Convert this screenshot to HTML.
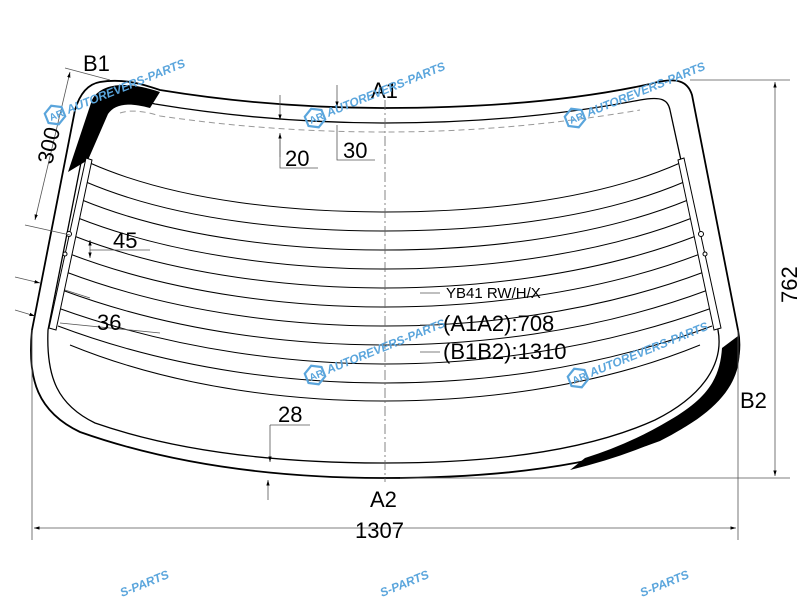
<!DOCTYPE html>
<html><head><meta charset="utf-8"><style>
html,body{margin:0;padding:0;background:#fff;width:800px;height:600px;overflow:hidden;}
svg{display:block;font-family:"Liberation Sans",Arial,sans-serif;}
</style></head><body>
<svg width="800" height="600" viewBox="0 0 800 600" xmlns="http://www.w3.org/2000/svg">
<defs>
<marker id="ar" viewBox="0 0 10 10" refX="10" refY="5" markerWidth="7" markerHeight="7" orient="auto-start-reverse"><path d="M0,2 L10,5 L0,8 Z" fill="#000"/></marker>
<g id="wm"><path d="M0,-10 L9,-5 L9,5 L0,10 L-9,5 L-9,-5 Z" fill="none" stroke="#5aa5dc" stroke-width="2.2"/><text x="-6" y="4" font-size="10" font-weight="bold" fill="#5aa5dc">AR</text><text x="13" y="4" font-size="12" fill="#5aa5dc" font-weight="bold" font-style="italic">AUTOREVERS-PARTS</text></g>
</defs>
<!-- black bands -->
<path d="M68,172 L92,100 C100,84 125,80 160,92 L150,108 C128,102 115,104 108,114 L88,160 Z" fill="#000"/>
<path d="M738,336 C746,375 725,410 660,440 Q620,458 570,470 L585,458 Q630,444 670,420 C708,398 720,378 722,348 Z" fill="#000"/>
<!-- outer outline -->
<path d="M100,82 C125,78 145,85 160,90 Q270,108 385,108 Q540,108 650,84 C678,76 688,82 692,95 L738,330 C746,372 720,410 660,440 Q560,478 385,478 Q210,478 80,432 C38,412 27,380 32,330 L75,110 C80,93 88,84 100,82 Z" fill="none" stroke="#000" stroke-width="1.8"/>
<!-- inner line -->
<path d="M113,107 C125,98 140,100 155,104 Q270,123 385,123 Q520,123 640,100 C662,96 668,100 670,110 L718,330 C724,362 705,395 655,420 Q560,463 385,463 Q210,463 95,423 C58,405 46,378 48,330 L88,127 C92,115 100,108 113,107 Z" fill="none" stroke="#000" stroke-width="1.3"/>
<!-- dashed -->
<path d="M120,113 Q135,108 160,116 Q270,132 385,132 Q510,132 640,110" fill="none" stroke="#999" stroke-width="1" stroke-dasharray="6,4"/>
<!-- heater lines -->
<g fill="none" stroke="#000" stroke-width="1">
<path d="M90,163 C180,203 300,212 385,212 C470,212 590,203 680,163"/>
<path d="M86,182 C180,222 300,231 385,231 C470,231 590,222 684,182"/>
<path d="M82,200 C180,240 300,250 385,250 C470,250 590,240 688,200"/>
<path d="M78,218 C180,258 300,269 385,269 C470,269 590,258 692,218"/>
<path d="M74,236 C180,277 300,288 385,288 C470,288 590,277 696,236"/>
<path d="M70,254 C180,296 300,307 385,307 C470,307 590,296 700,254"/>
<path d="M66,272 C180,315 300,326 385,326 C470,326 590,315 704,272"/>
<path d="M62,290 C180,334 300,345 385,345 C470,345 590,334 708,290"/>
<path d="M58,308 C180,352 300,364 385,364 C470,364 590,352 712,308"/>
<path d="M58,326 C180,372 300,383 385,383 C470,383 590,372 712,326"/>
<path d="M70,345 C180,390 300,401 385,401 C470,401 590,390 700,345"/>
</g>
<!-- heater bars -->
<g fill="#fff" stroke="#000" stroke-width="1">
<path d="M86,158 L92,160 L56,330 L49,328 Z"/>
<path d="M684,158 L678,160 L714,330 L721,328 Z"/>
<circle cx="69" cy="234" r="2.5"/><circle cx="65" cy="254" r="2"/>
<circle cx="701" cy="234" r="2.5"/><circle cx="705" cy="254" r="2"/>
</g>
<!-- centre axis -->
<line x1="385" y1="100" x2="385" y2="482" stroke="#666" stroke-width="0.8" stroke-dasharray="10,3,2,3"/>
<!-- dimension lines -->
<g stroke="#555" stroke-width="0.8" fill="none">
<line x1="32" y1="330" x2="32" y2="540"/><line x1="738" y1="330" x2="738" y2="540"/>
<line x1="34" y1="528" x2="736" y2="528" marker-start="url(#ar)" marker-end="url(#ar)"/>
<line x1="690" y1="80" x2="790" y2="80"/><line x1="400" y1="478" x2="790" y2="478"/>
<line x1="775" y1="82" x2="775" y2="476" marker-start="url(#ar)" marker-end="url(#ar)"/>
<line x1="65" y1="68" x2="110" y2="80"/><line x1="25" y1="225" x2="70" y2="235"/>
<line x1="70" y1="72" x2="35" y2="220" marker-start="url(#ar)" marker-end="url(#ar)"/>
<line x1="280" y1="95" x2="280" y2="120" marker-end="url(#ar)"/>
<line x1="280" y1="157" x2="280" y2="133" marker-end="url(#ar)"/>
<polyline points="280,140 280,168 318,168"/>
<line x1="337" y1="85" x2="337" y2="107" marker-end="url(#ar)"/>
<polyline points="337,125 337,160 375,160"/>
<line x1="90" y1="240" x2="90" y2="258" marker-start="url(#ar)" marker-end="url(#ar)"/>
<line x1="90" y1="250" x2="150" y2="250"/>
<line x1="15" y1="277" x2="40" y2="283" marker-end="url(#ar)"/>
<line x1="15" y1="310" x2="35" y2="316" marker-end="url(#ar)"/>
<line x1="65" y1="290" x2="90" y2="298"/><line x1="60" y1="323" x2="160" y2="333"/>
<line x1="270" y1="425" x2="270" y2="462" marker-end="url(#ar)"/>
<line x1="270" y1="425" x2="310" y2="425"/>
<line x1="268" y1="500" x2="268" y2="480" marker-end="url(#ar)"/>
<line x1="420" y1="293" x2="440" y2="293"/><line x1="420" y1="325" x2="440" y2="325"/><line x1="420" y1="352" x2="440" y2="352"/>
</g>
<!-- labels -->
<g fill="#000" font-size="22">
<text x="83" y="71">B1</text>
<text x="371" y="98">A1</text>
<text x="370" y="507">A2</text>
<text x="740" y="408">B2</text>
<text x="285" y="166">20</text>
<text x="343" y="158">30</text>
<text x="113" y="248">45</text>
<text x="97" y="330">36</text>
<text x="278" y="422">28</text>
<text x="355" y="538">1307</text>
<text transform="translate(797,303) rotate(-90)">762</text>
<text transform="translate(52,165) rotate(-77)">300</text>
<text x="446" y="298" font-size="15">YB41 RW/H/X</text>
<text x="443" y="331">(A1A2):708</text>
<text x="443" y="359">(B1B2):1310</text>
</g>
<!-- watermarks -->
<g>
<use href="#wm" transform="translate(55,115) rotate(-22)"/>
<use href="#wm" transform="translate(315,118) rotate(-22)"/>
<use href="#wm" transform="translate(575,118) rotate(-22)"/>
<use href="#wm" transform="translate(315,375) rotate(-22)"/>
<use href="#wm" transform="translate(578,378) rotate(-22)"/>
<g font-size="12" fill="#5aa5dc" font-weight="bold" font-style="italic">
<text transform="translate(122,597) rotate(-22)">S-PARTS</text>
<text transform="translate(382,597) rotate(-22)">S-PARTS</text>
<text transform="translate(642,597) rotate(-22)">S-PARTS</text>
</g>
</g>
</svg>
</body></html>
